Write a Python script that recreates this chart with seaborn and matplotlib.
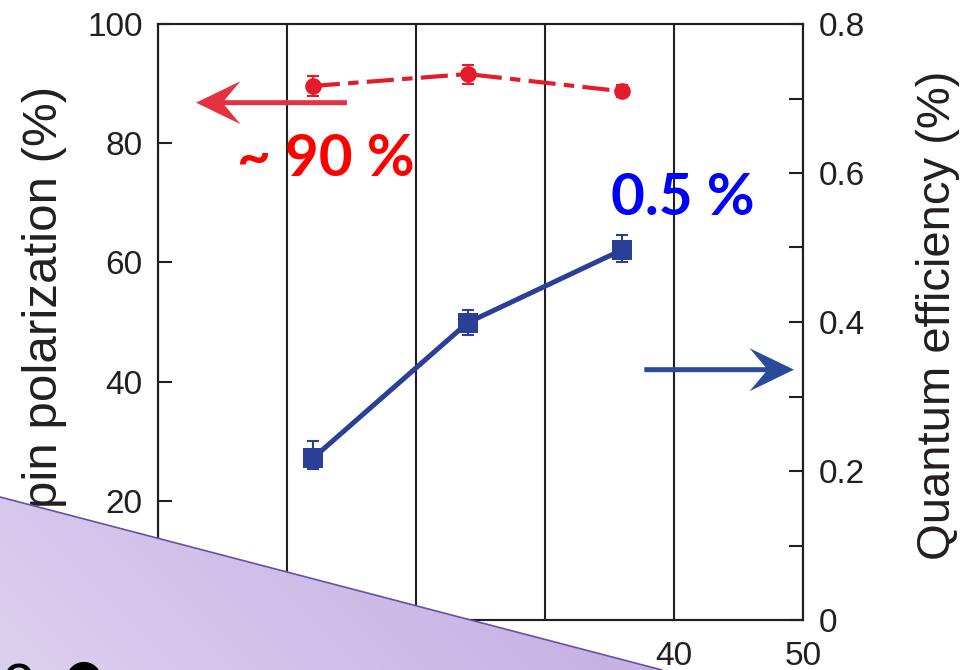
import numpy as np
import pandas as pd
import matplotlib
matplotlib.use("Agg")
import matplotlib.pyplot as plt
import seaborn as sns
from matplotlib.patches import Polygon, ArrowStyle
from matplotlib.path import Path
from matplotlib.ticker import MultipleLocator, FixedLocator

# Photocathode thickness (nm)
thickness = [12, 24, 36]
# Spin polarization (%) and its uncertainty
spin_pol = [89.6, 91.6, 88.7]
spin_err = [1.6, 1.6, 1.0]
# Quantum efficiency (%) with lower / upper uncertainty
qe = [0.217, 0.399, 0.497]
qe_err_lo = [0.014, 0.016, 0.017]
qe_err_hi = [0.023, 0.017, 0.020]

x_ticks = [0, 10, 20, 30, 40, 50]
sp_ticks = [0, 20, 40, 60, 80, 100]
qe_ticks = [0, 0.2, 0.4, 0.6, 0.8]
qe_tick_labels = ["0", "0.2", "0.4", "0.6", "0.8"]

RED = "#e31b2b"
BLUE = "#2b3f96"
INK = "#231f20"


class NotchedArrow(ArrowStyle._Base):
    """Filled arrow with a swept-back (notched) head."""

    def __init__(self, head_length=3.2, head_width=1.55, tail_width=0.36,
                 notch=0.36):
        self.head_length = head_length
        self.head_width = head_width
        self.tail_width = tail_width
        self.notch = notch
        super().__init__()

    def transmute(self, path, mutation_size, linewidth):
        (x0, y0), (x1, y1) = path.vertices[0], path.vertices[-1]
        d = np.hypot(x1 - x0, y1 - y0)
        ux, uy = (x1 - x0) / d, (y1 - y0) / d
        nx, ny = -uy, ux
        hl = self.head_length * mutation_size
        hw = self.head_width * mutation_size
        tw = self.tail_width * mutation_size / 2
        jl = hl * (1 - self.notch)
        verts = [
            (x0 + nx * tw, y0 + ny * tw),
            (x1 - ux * jl + nx * tw, y1 - uy * jl + ny * tw),
            (x1 - ux * hl + nx * hw, y1 - uy * hl + ny * hw),
            (x1, y1),
            (x1 - ux * hl - nx * hw, y1 - uy * hl - ny * hw),
            (x1 - ux * jl - nx * tw, y1 - uy * jl - ny * tw),
            (x0 - nx * tw, y0 - ny * tw),
            (x0 + nx * tw, y0 + ny * tw),
        ]
        codes = [Path.MOVETO] + [Path.LINETO] * 6 + [Path.CLOSEPOLY]
        return Path(verts, codes), True


sns.set_theme(style="ticks")
plt.rcParams["font.family"] = ["Liberation Sans", "DejaVu Sans"]
plt.rcParams["axes.edgecolor"] = INK
plt.rcParams["axes.linewidth"] = 1.5

fig = plt.figure(figsize=(9.65, 6.70), dpi=100)
ax = fig.add_axes([158 / 965, 50 / 670, 645 / 965, 596 / 670])
ax2 = ax.twinx()

# --- spin polarization (left axis) ---
df_sp = pd.DataFrame({"thickness": thickness, "sp": spin_pol})
sns.lineplot(data=df_sp, x="thickness", y="sp", ax=ax, color=RED, lw=3,
             marker="o", markersize=12, markeredgewidth=0, zorder=3)
ax.lines[-1].set_dashes([6.5, 2, 2.5, 2])
ax.errorbar(thickness, spin_pol, yerr=spin_err, fmt="none", ecolor=RED,
            elinewidth=1.5, capsize=4, capthick=1.5, zorder=3)

# --- quantum efficiency (right axis) ---
df_qe = pd.DataFrame({"thickness": thickness, "qe": qe})
sns.lineplot(data=df_qe, x="thickness", y="qe", ax=ax2, color=BLUE, lw=3.6,
             marker="s", markersize=14, markeredgewidth=0, zorder=3)
ax2.errorbar(thickness, qe, yerr=[qe_err_lo, qe_err_hi], fmt="none",
             ecolor=BLUE, elinewidth=1.5, capsize=4.5, capthick=1.5, zorder=3)

# axes limits and ticks
ax.set_xlim(0, 50)
ax.set_ylim(0, 100)
ax2.set_ylim(0, 0.8)
ax.xaxis.set_major_locator(FixedLocator(x_ticks))
ax.yaxis.set_major_locator(FixedLocator(sp_ticks))
ax2.yaxis.set_major_locator(FixedLocator(qe_ticks))
ax2.set_yticklabels(qe_tick_labels)
ax2.yaxis.set_minor_locator(MultipleLocator(0.1))

ax.grid(axis="x", color=INK, lw=1.5)
ax.grid(axis="y", visible=False)
ax.set_axisbelow(True)

for a in (ax, ax2):
    for s in a.spines.values():
        s.set_visible(True)
        s.set_color(INK)
        s.set_linewidth(1.5)

ax.tick_params(axis="y", which="both", direction="in", length=10, width=1.5,
               color=INK, labelsize=24, pad=11, labelcolor=INK, right=False)
ax.tick_params(axis="x", direction="in", length=0, labelsize=24, pad=15,
               labelcolor=INK, top=False)
ax2.tick_params(axis="y", which="both", direction="in", length=10, width=1.5,
                color=INK, labelsize=24, pad=11, labelcolor=INK)

ax.set_xlabel("")
ax.set_ylabel("Spin polarization (%)", fontsize=35.5, color=INK)
ax.yaxis.set_label_coords(-0.141, 0.515)
ax2.set_ylabel("Quantum efficiency (%)", fontsize=34, color=INK)
ax2.yaxis.set_label_coords(1.175, 0.512)

# arrows pointing to the relevant axis
ax.annotate("", xy=(2.95, 86.8), xytext=(14.65, 86.8),
            arrowprops=dict(arrowstyle=NotchedArrow(), facecolor="#e43240",
                            edgecolor="none", shrinkA=0, shrinkB=0,
                            mutation_scale=10), zorder=4)
ax2.annotate("", xy=(49.3, 0.336), xytext=(37.7, 0.336),
             arrowprops=dict(arrowstyle=NotchedArrow(), facecolor="#2a4a9a",
                             edgecolor="none", shrinkA=0, shrinkB=0,
                             mutation_scale=10), zorder=4)

ax2.text(13.0, 0.8 * 77.2 / 100, "~ 90 %", color="#ff0000", fontsize=42,
         fontweight="bold", ha="center", va="center",
         family=["Lato", "DejaVu Sans"], zorder=5)
ax2.text(40.7, 0.8 * 70.7 / 100, "0.5 %", color="#0000ff", fontsize=42,
         fontweight="bold", ha="center", va="center",
         family=["Lato", "DejaVu Sans"], zorder=5)

# slide overlay in the lower-left corner
ov = fig.add_axes([0, 0, 1, 1], zorder=10)
ov.set_xlim(0, 965)
ov.set_ylim(670, 0)
ov.axis("off")
ov.patch.set_alpha(0)

gx, gy = np.meshgrid(np.linspace(0, 965, 400), np.linspace(0, 670, 300))
t = np.clip((gx + (670 - gy)) / 720, 0, 1)
c0 = np.array([0xdc, 0xd0, 0xef]) / 255
c1 = np.array([0xc3, 0xae, 0xe3]) / 255
img = c0[None, None, :] * (1 - t[..., None]) + c1[None, None, :] * t[..., None]
im = ov.imshow(img, extent=(0, 965, 670, 0), aspect="auto", zorder=1)
tri = Polygon([(0, 497), (662, 670), (0, 670)], closed=True,
              transform=ov.transData, facecolor="none", edgecolor="none")
ov.add_patch(tri)
im.set_clip_path(tri)
ov.plot([0, 662], [497, 670], color="#6a50a5", lw=1.2, zorder=2)

ov.text(-10, 695, "ic", fontsize=44, color="black", va="baseline",
        ha="left", zorder=3)
ov.text(84, 691, "●", fontsize=33, color="black", va="baseline",
        ha="center", family=["DejaVu Sans"], zorder=3)

fig.savefig("out.png", dpi=100)
